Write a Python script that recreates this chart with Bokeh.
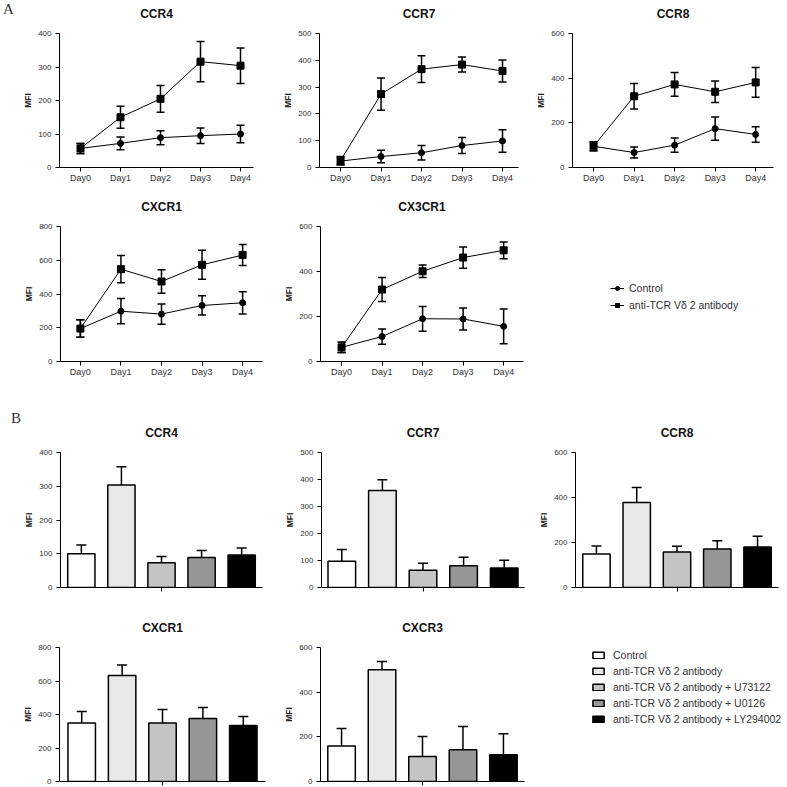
from bokeh.plotting import figure
from bokeh.models import (Range1d, FixedTicker, Whisker, TeeHead, ColumnDataSource,
                          Legend, LegendItem, Div, LinearAxis)
from bokeh.layouts import column, row
from bokeh.embed import file_html
from bokeh.resources import INLINE

# ---------------- data ----------------
days = ["Day0", "Day1", "Day2", "Day3", "Day4"]

ccr4_ctrl = [57, 72, 89, 95, 100]
ccr4_ctrl_err = [15, 19, 21, 23, 26]
ccr4_anti = [57, 150, 205, 316, 304]
ccr4_anti_err = [15, 33, 40, 60, 53]

ccr7_ctrl = [24, 41, 55, 82, 99]
ccr7_ctrl_err = [15, 23, 27, 30, 42]
ccr7_anti = [26, 274, 367, 384, 360]
ccr7_anti_err = [15, 60, 50, 28, 41]

ccr8_ctrl = [95, 67, 100, 174, 148]
ccr8_ctrl_err = [20, 25, 32, 52, 35]
ccr8_anti = [95, 319, 372, 339, 381]
ccr8_anti_err = [20, 57, 53, 48, 67]

cxcr1_ctrl = [195, 298, 281, 332, 348]
cxcr1_ctrl_err = [52, 75, 60, 57, 66]
cxcr1_anti = [195, 547, 474, 573, 631]
cxcr1_anti_err = [52, 81, 70, 86, 62]

cx3cr1_ctrl = [63, 111, 190, 189, 156]
cx3cr1_ctrl_err = [23, 34, 55, 49, 77]
cx3cr1_anti = [63, 320, 401, 462, 494]
cx3cr1_anti_err = [23, 53, 28, 47, 37]

series_names = ["Control", "anti-TCR V\u03b4 2 antibody"]

treatments = ["Control",
              "anti-TCR V\u03b4 2 antibody",
              "anti-TCR V\u03b4 2 antibody + U73122",
              "anti-TCR V\u03b4 2 antibody + U0126",
              "anti-TCR V\u03b4 2 antibody + LY294002"]
treat_colors = ["#ffffff", "#e8e8e8", "#c4c4c4", "#969696", "#000000"]

b_ccr4 = [100, 304, 73, 89, 96]
b_ccr4_err = [26, 54, 19, 21, 21]
b_ccr7 = [97, 359, 64, 81, 72]
b_ccr7_err = [44, 40, 26, 31, 29]
b_ccr8 = [149, 378, 158, 171, 180]
b_ccr8_err = [36, 66, 25, 37, 48]
b_cxcr1 = [350, 633, 350, 376, 334]
b_cxcr1_err = [68, 62, 80, 66, 54]
b_cxcr3 = [159, 500, 112, 142, 120]
b_cxcr3_err = [78, 37, 89, 104, 94]

FONT = "Liberation Sans"
TXT = "#333333"


def plain_fig(w, h, bt, bb):
    p = figure(width=w, height=h, output_backend="svg", toolbar_location=None,
               x_range=Range1d(0, 1), y_range=Range1d(0, 1),
               x_axis_location=None, y_axis_location=None, title=None,
               min_border_left=0, min_border_right=0,
               min_border_top=bt, min_border_bottom=bb)
    p.outline_line_color = None
    p.grid.visible = False
    p.background_fill_color = "white"
    p.border_fill_color = "white"
    return p


def panel_letter(letter, w, h, left, top):
    return Div(text=('<div style="font-family:\'Liberation Serif\',serif;'
                     'font-size:15px;line-height:15px;color:#333333;'
                     'padding-left:%dpx;padding-top:%dpx;margin:0">%s</div>'
                     % (left, top, letter)),
               width=w, height=h, margin=0)


def base_fig(title, w, h, bl, br, bt, bb, xr, ymax, ystep):
    p = figure(width=w, height=h, output_backend="svg", toolbar_location=None,
               x_range=Range1d(*xr), y_range=Range1d(0, ymax), title=None,
               min_border_left=bl, min_border_right=br,
               min_border_top=bt, min_border_bottom=bb)
    p.outline_line_color = None
    p.xgrid.visible = False
    p.ygrid.visible = False
    p.background_fill_color = "white"
    p.border_fill_color = "white"
    xax = p.below[0]
    yax = p.left[0]
    for ax in (xax, yax):
        ax.axis_line_color = "black"
        ax.axis_line_width = 1
        ax.major_tick_line_color = "black"
        ax.major_tick_in = 0
        ax.major_tick_out = 4
        ax.minor_tick_line_color = None
        ax.major_label_text_font = FONT
        ax.major_label_text_color = TXT
    yax.major_label_text_font_size = "8px"
    yax.major_label_standoff = 4
    yax.ticker = FixedTicker(ticks=list(range(0, ymax + 1, ystep)))
    yax.axis_label = "MFI"
    yax.axis_label_text_font = FONT
    yax.axis_label_text_font_size = "8.5px"
    yax.axis_label_text_font_style = "bold"
    yax.axis_label_text_color = "#222222"
    yax.axis_label_standoff = 2
    # chart title, drawn as the label of an empty axis above the frame
    top_axis = LinearAxis(ticker=FixedTicker(ticks=[]), axis_line_color=None,
                          major_tick_line_color=None, minor_tick_line_color=None,
                          major_tick_in=0, major_tick_out=0,
                          minor_tick_in=0, minor_tick_out=0,
                          major_label_standoff=0,
                          axis_label=title, axis_label_standoff=13,
                          axis_label_text_font=FONT,
                          axis_label_text_font_size="12px",
                          axis_label_text_font_style="bold",
                          axis_label_text_color="#111111")
    p.add_layout(top_axis, "above")
    return p, xax


def line_panel(title, w, h, bl, br, bt, bb, xr, ymax, ystep,
               ctrl, ctrl_err, anti, anti_err):
    p, xax = base_fig(title, w, h, bl, br, bt, bb, xr, ymax, ystep)
    xax.ticker = FixedTicker(ticks=list(range(len(days))))
    xax.major_label_overrides = {i: d for i, d in enumerate(days)}
    xax.major_label_text_font_size = "9px"
    xax.major_label_standoff = 1
    for vals, errs, marker, size in ((ctrl, ctrl_err, "circle", 6),
                                     (anti, anti_err, "square", 7)):
        src = ColumnDataSource(dict(
            x=list(range(len(days))), y=vals,
            lo=[v - e for v, e in zip(vals, errs)],
            hi=[v + e for v, e in zip(vals, errs)]))
        wk = Whisker(source=src, base="x", lower="lo", upper="hi",
                     line_color="black", line_width=1.5,
                     upper_head=TeeHead(size=8, line_width=1.5, line_color="black"),
                     lower_head=TeeHead(size=8, line_width=1.5, line_color="black"))
        p.add_layout(wk)
        p.line("x", "y", source=src, line_color="black", line_width=1)
        p.scatter("x", "y", source=src, marker=marker, size=size,
                  fill_color="black", line_color="black")
    return p


def bar_panel(title, w, h, bl, br, bt, bb, xr, ymax, ystep, vals, errs):
    p, xax = base_fig(title, w, h, bl, br, bt, bb, xr, ymax, ystep)
    xax.ticker = FixedTicker(ticks=[], minor_ticks=[(len(treatments) - 1) / 2])
    xax.minor_tick_line_color = "black"
    xax.minor_tick_in = 0
    xax.minor_tick_out = 4
    xax.major_label_standoff = 0
    src = ColumnDataSource(dict(
        x=list(range(len(treatments))), top=vals, color=treat_colors,
        lo=vals, hi=[v + e for v, e in zip(vals, errs)]))
    wk = Whisker(source=src, base="x", lower="lo", upper="hi",
                 line_color="black", line_width=1.5,
                 upper_head=TeeHead(size=10, line_width=1.5, line_color="black"),
                 lower_head=None)
    p.add_layout(wk)
    p.vbar(x="x", top="top", bottom=0, width=0.68, source=src,
           fill_color="color", line_color="black", line_width=1.5)
    return p


# ---------------- panel A ----------------
H1, H2, H3, H4 = 192, 193, 215, 186

letA = panel_letter("A", 18, H1, 3, 2)
a1 = line_panel("CCR4", 250, H1, 41, 15, 33, 25, (-0.525, 4.325), 400, 100,
                ccr4_ctrl, ccr4_ctrl_err, ccr4_anti, ccr4_anti_err)
a2 = line_panel("CCR7", 260, H1, 51, 10, 33, 25, (-0.52, 4.395), 500, 100,
                ccr7_ctrl, ccr7_ctrl_err, ccr7_anti, ccr7_anti_err)
a3 = line_panel("CCR8", 258, H1, 44, 13, 33, 25, (-0.52, 4.44), 600, 200,
                ccr8_ctrl, ccr8_ctrl_err, ccr8_anti, ccr8_anti_err)
a4 = line_panel("CXCR1", 268, H2, 60, 6, 34, 24, (-0.49, 4.49), 800, 200,
                cxcr1_ctrl, cxcr1_ctrl_err, cxcr1_anti, cxcr1_anti_err)
a5 = line_panel("CX3CR1", 260, H2, 52, 5, 34, 24, (-0.52, 4.49), 600, 200,
                cx3cr1_ctrl, cx3cr1_ctrl_err, cx3cr1_anti, cx3cr1_anti_err)

legAfig = plain_fig(258, H2, 34, 24)
la = []
for vals, name, marker, size in zip([cx3cr1_ctrl, cx3cr1_anti], series_names,
                                    ["circle", "square"], [6, 7]):
    src = ColumnDataSource(dict(x=list(range(len(days))), y=vals))
    lr = legAfig.line("x", "y", source=src, line_color="black", line_width=1)
    sr = legAfig.scatter("x", "y", source=src, marker=marker, size=size,
                         fill_color="black", line_color="black")
    lr.visible = False
    sr.visible = False
    la.append(LegendItem(label=name, renderers=[lr, sr]))
legAfig.add_layout(Legend(items=la, location=(82, 50), glyph_width=14,
                          glyph_height=10, label_standoff=5, spacing=5,
                          padding=0, margin=0, label_height=10,
                          border_line_color=None, background_fill_alpha=0,
                          inactive_fill_alpha=0,
                          label_text_font=FONT, label_text_font_size="10.5px",
                          label_text_color=TXT))

# ---------------- panel B ----------------
letB = panel_letter("B", 21, H3, 11, 26)
b1 = bar_panel("CCR4", 247, H3, 37, 6, 67, 13, (-0.52, 4.52), 400, 100,
               b_ccr4, b_ccr4_err)
b2 = bar_panel("CCR7", 260, H3, 53, 4, 67, 13, (-0.5, 4.5), 500, 100,
               b_ccr7, b_ccr7_err)
b3 = bar_panel("CCR8", 258, H3, 47, 8, 67, 13, (-0.52, 4.52), 600, 200,
               b_ccr8, b_ccr8_err)
b4 = bar_panel("CXCR1", 268, H4, 59, 3, 47, 5, (-0.55, 4.55), 800, 200,
               b_cxcr1, b_cxcr1_err)
b5 = bar_panel("CXCR3", 260, H4, 52, 4, 47, 5, (-0.52, 4.52), 600, 200,
               b_cxcr3, b_cxcr3_err)

legBfig = plain_fig(258, H4, 47, 5)
bsrc = ColumnDataSource(dict(x=list(range(len(treatments))), top=b_cxcr3,
                             color=treat_colors))
rb = legBfig.vbar(x="x", top="top", bottom=0, width=0.68, source=bsrc,
                  fill_color="color", line_color="black", line_width=1.5)
rb.visible = False
lb = [LegendItem(label=name, renderers=[rb], index=i)
      for i, name in enumerate(treatments)]
legBfig.add_layout(Legend(items=lb, location=(63, 56), glyph_width=14,
                          glyph_height=8, label_standoff=8, spacing=4,
                          padding=0, margin=0, label_height=10,
                          border_line_color=None, background_fill_alpha=0,
                          inactive_fill_alpha=0,
                          label_text_font=FONT, label_text_font_size="10.5px",
                          label_text_color=TXT))

layout = column(row(letA, a1, a2, a3),
                row(a4, a5, legAfig),
                row(letB, b1, b2, b3),
                row(b4, b5, legBfig))

open("out.html", "w").write(file_html(layout, INLINE))
